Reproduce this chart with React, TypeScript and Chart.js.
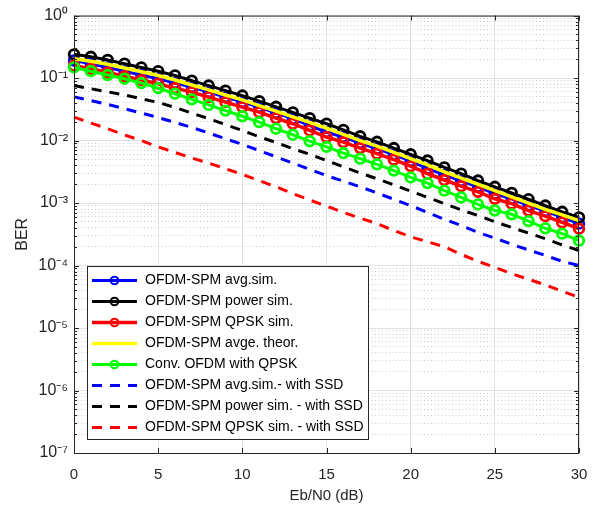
import React, { useEffect, useRef } from 'react';
import { Chart, registerables } from 'chart.js';

Chart.register(...registerables);

// ---------------- data ----------------
const snrDb = [0, 1, 2, 3, 4, 5, 6, 7, 8, 9, 10, 11, 12, 13, 14, 15, 16, 17, 18, 19, 20, 21, 22, 23, 24, 25, 26, 27, 28, 29, 30];

const avgSim = [0.191, 0.170, 0.148, 0.129, 0.112, 0.0977, 0.0832, 0.0716, 0.0596, 0.0495, 0.0412, 0.0343, 0.0275, 0.0224, 0.0174, 0.0136, 0.0114, 0.00912, 0.00741, 0.00596, 0.00468, 0.00355, 0.00282, 0.00224, 0.00182, 0.00141, 0.00117, 0.000912, 0.000741, 0.000589, 0.000468];

const powerSim = [0.240, 0.219, 0.195, 0.170, 0.148, 0.129, 0.110, 0.0912, 0.0759, 0.0631, 0.0525, 0.0427, 0.0347, 0.0282, 0.0229, 0.0186, 0.0148, 0.0117, 0.00955, 0.00759, 0.00603, 0.00479, 0.00372, 0.00295, 0.00229, 0.00182, 0.00145, 0.00115, 0.000912, 0.000724, 0.000589];

const qpskSim = [0.158, 0.141, 0.123, 0.107, 0.0933, 0.0813, 0.0692, 0.0596, 0.0495, 0.0412, 0.0343, 0.0285, 0.0229, 0.0186, 0.0145, 0.0114, 0.00944, 0.00759, 0.00617, 0.00495, 0.00389, 0.00295, 0.00234, 0.00186, 0.00151, 0.00117, 0.000977, 0.000759, 0.000617, 0.000490, 0.000389];

const avgTheory = [0.204, 0.186, 0.166, 0.145, 0.126, 0.110, 0.0933, 0.0776, 0.0646, 0.0537, 0.0447, 0.0363, 0.0295, 0.0240, 0.0195, 0.0158, 0.0126, 0.0100, 0.00813, 0.00646, 0.00513, 0.00407, 0.00316, 0.00251, 0.00200, 0.00158, 0.00126, 0.00100, 0.000794, 0.000646, 0.000525];

const convOfdmQpsk = [0.148, 0.129, 0.112, 0.0977, 0.0832, 0.0692, 0.0562, 0.0457, 0.0372, 0.0302, 0.0245, 0.0197, 0.0155, 0.0124, 0.00977, 0.00794, 0.00631, 0.00513, 0.00417, 0.00331, 0.00257, 0.00209, 0.00158, 0.00123, 0.000950, 0.000760, 0.000661, 0.000513, 0.000395, 0.000324, 0.000251];

const avgSimSsd = [0.0501, 0.0437, 0.0380, 0.0324, 0.0275, 0.0234, 0.0195, 0.0162, 0.0132, 0.0107, 0.00871, 0.00692, 0.00550, 0.00437, 0.00347, 0.00275, 0.00224, 0.00182, 0.00145, 0.00115, 0.000912, 0.000708, 0.000550, 0.000437, 0.000339, 0.000275, 0.000219, 0.000178, 0.000145, 0.000117, 0.000100];

const powerSimSsd = [0.0759, 0.0676, 0.0603, 0.0537, 0.0468, 0.0407, 0.0339, 0.0275, 0.0224, 0.0180, 0.0145, 0.0115, 0.00933, 0.00741, 0.00603, 0.00479, 0.00380, 0.00302, 0.00245, 0.00195, 0.00155, 0.00123, 0.000977, 0.000776, 0.000631, 0.000501, 0.000407, 0.000331, 0.000269, 0.000214, 0.000174];

const qpskSimSsd = [0.0237, 0.0191, 0.0155, 0.0123, 0.0100, 0.00794, 0.00646, 0.00525, 0.00437, 0.00355, 0.00288, 0.00229, 0.00182, 0.00141, 0.00112, 0.000891, 0.000708, 0.000575, 0.000468, 0.000363, 0.000288, 0.000240, 0.000200, 0.000151, 0.000117, 0.0000933, 0.0000741, 0.0000603, 0.0000490, 0.0000389, 0.0000309];

const seriesLabels = [
  'OFDM-SPM avg.sim.',
  'OFDM-SPM power sim.',
  'OFDM-SPM QPSK sim.',
  'OFDM-SPM avge. theor.',
  'Conv. OFDM with QPSK',
  'OFDM-SPM avg.sim.- with SSD',
  'OFDM-SPM power sim. - with SSD',
  'OFDM-SPM QPSK sim. - with SSD',
];

const xTickValues = [0, 5, 10, 15, 20, 25, 30];
const yDecadeExponents = [0, -1, -2, -3, -4, -5, -6, -7];
const yTickLabels = ['10⁰', '10⁻¹', '10⁻²', '10⁻³', '10⁻⁴', '10⁻⁵', '10⁻⁶', '10⁻⁷'];
const yMinorMultipliers = [2, 3, 4, 5, 6, 7, 8, 9];

const xTitle = 'Eb/N0 (dB)';
const yTitle = 'BER';

// ---------------- styling ----------------
const FONT = '"Liberation Sans", Arial, Helvetica, sans-serif';
const AXIS_COLOR = '#262626';
const DASH = [10, 8];

const toPoints = (vals: number[]) => snrDb.map((x, i) => ({ x, y: vals[i] }));

type SeriesStyle = { data: number[]; color: string; dashed: boolean; marker: boolean; width: number };
const seriesStyles: SeriesStyle[] = [
  { data: avgSim, color: '#0000ff', dashed: false, marker: true, width: 3 },
  { data: powerSim, color: '#000000', dashed: false, marker: true, width: 3 },
  { data: qpskSim, color: '#ff0000', dashed: false, marker: true, width: 3.5 },
  { data: avgTheory, color: '#ffff00', dashed: false, marker: false, width: 3.5 },
  { data: convOfdmQpsk, color: '#00ff00', dashed: false, marker: true, width: 3 },
  { data: avgSimSsd, color: '#0000ff', dashed: true, marker: false, width: 3 },
  { data: powerSimSsd, color: '#000000', dashed: true, marker: false, width: 3 },
  { data: qpskSimSsd, color: '#ff0000', dashed: true, marker: false, width: 3 },
];

const isDecade = (v: number) => {
  const e = Math.round(Math.log10(v));
  return Math.abs(v - Math.pow(10, e)) / v < 1e-6;
};

const framePlugin = {
  id: 'matlabFrame',
  afterDraw(chart: any) {
    const { ctx, chartArea } = chart;
    const { left, right, top, bottom } = chartArea;
    const xs = chart.scales.x;
    const ys = chart.scales.y;
    ctx.save();
    ctx.strokeStyle = AXIS_COLOR;
    ctx.lineWidth = 1;
    ctx.setLineDash([]);
    ys.ticks.forEach((t: any) => {
      const py = Math.round(ys.getPixelForValue(t.value)) + 0.5;
      const len = t.major ? 5 : 3;
      ctx.beginPath();
      ctx.moveTo(left, py); ctx.lineTo(left + len, py);
      ctx.moveTo(right, py); ctx.lineTo(right - len, py);
      ctx.stroke();
    });
    xs.ticks.forEach((t: any) => {
      const px = Math.round(xs.getPixelForValue(t.value)) + 0.5;
      ctx.beginPath();
      ctx.moveTo(px, bottom); ctx.lineTo(px, bottom - 5);
      ctx.moveTo(px, top); ctx.lineTo(px, top + 5);
      ctx.stroke();
    });
    ctx.strokeRect(left + 0.5, top + 0.5, right - left - 1, bottom - top);

    // legend box
    const lx = 87, ly = 266, lw = 281, lh = 173;
    ctx.fillStyle = '#ffffff';
    ctx.fillRect(lx, ly, lw, lh);
    ctx.strokeStyle = AXIS_COLOR;
    ctx.lineWidth = 1;
    ctx.strokeRect(lx + 0.5, ly + 0.5, lw, lh);
    ctx.font = '14px ' + FONT;
    ctx.textBaseline = 'middle';
    ctx.textAlign = 'left';
    chart.data.datasets.forEach((ds: any, i: number) => {
      const st = seriesStyles[i];
      const cy = 280.5 + i * 21;
      ctx.strokeStyle = st.color;
      ctx.lineWidth = st.width;
      ctx.setLineDash(st.dashed ? DASH : []);
      ctx.beginPath();
      ctx.moveTo(92, cy); ctx.lineTo(137, cy);
      ctx.stroke();
      ctx.setLineDash([]);
      if (st.marker) {
        ctx.lineWidth = 2;
        ctx.beginPath();
        ctx.arc(114.5, cy, 3.8, 0, Math.PI * 2);
        ctx.stroke();
      }
      ctx.fillStyle = '#000000';
      ctx.fillText(ds.label, 145, cy);
    });
    ctx.restore();
  },
};

export default function App() {
  const canvasRef = useRef<HTMLCanvasElement | null>(null);

  useEffect(() => {
    if (!canvasRef.current) return;
    const n = seriesStyles.length;
    const datasets = seriesStyles.map((st, i) => ({
      label: seriesLabels[i],
      data: toPoints(st.data),
      borderColor: st.color,
      backgroundColor: st.color,
      borderWidth: st.width,
      borderDash: st.dashed ? DASH : [],
      pointRadius: st.marker ? 4.8 : 0,
      pointBorderWidth: 2.8,
      pointBorderColor: st.color,
      pointBackgroundColor: 'rgba(0,0,0,0)',
      pointStyle: 'circle',
      tension: 0,
      fill: false,
      clip: false as any,
      order: n - i,
    }));

    const chart = new Chart(canvasRef.current, {
      type: 'line',
      data: { datasets },
      options: {
        responsive: false,
        animation: false,
        events: [],
        layout: { padding: { top: 15, right: 19, left: 0, bottom: 0 } },
        plugins: { legend: { display: false }, tooltip: { enabled: false } },
        scales: {
          x: {
            type: 'linear',
            min: 0,
            max: 30,
            afterBuildTicks: (s: any) => { s.ticks = xTickValues.map((v) => ({ value: v })); },
            afterFit: (s: any) => { s.height = 53; s.paddingRight = 0; s.paddingLeft = 0; },
            ticks: { color: AXIS_COLOR, font: { size: 15, family: FONT }, padding: 13, maxRotation: 0, autoSkip: false },
            grid: { color: '#e2e2e2', lineWidth: 1, drawTicks: false },
            border: { display: false },
            title: { display: true, text: xTitle, color: AXIS_COLOR, font: { size: 15, family: FONT }, padding: { top: 0, bottom: 1 } },
          },
          y: {
            type: 'logarithmic',
            min: 1e-7,
            max: 1,
            afterBuildTicks: (s: any) => {
              const t: any[] = [];
              [...yDecadeExponents].reverse().forEach((e) => {
                t.push({ value: Math.pow(10, e), major: true });
                if (e < 0) yMinorMultipliers.forEach((m) => t.push({ value: m * Math.pow(10, e), major: false }));
              });
              s.ticks = t;
            },
            afterFit: (s: any) => { s.width = 74; },
            ticks: {
              autoSkip: false,
              color: AXIS_COLOR,
              font: { size: 16, family: FONT },
              padding: 6,
              callback: (v: any) => {
                if (!isDecade(v)) return '';
                const e = Math.round(Math.log10(v));
                return yTickLabels[yDecadeExponents.indexOf(e)];
              },
            },
            grid: {
              drawTicks: false,
              lineWidth: 1,
              color: (c: any) => (c.tick && c.tick.major ? '#e2e2e2' : '#cbcbcb'),
            },
            border: {
              display: false,
              dash: (c: any) => (c.tick && c.tick.major ? [] : [1, 2.5]),
            } as any,
            title: { display: true, text: yTitle, color: AXIS_COLOR, font: { size: 16, family: FONT }, padding: { top: 13, bottom: 0 } },
          },
        },
      } as any,
      plugins: [framePlugin],
    });
    return () => chart.destroy();
  }, []);

  return (
    <div style={{ position: 'fixed', left: 0, top: 0, width: 598, height: 506, background: '#ffffff' }}>
      <canvas ref={canvasRef} width={598} height={506} style={{ display: 'block', width: 598, height: 506 }} />
    </div>
  );
}
